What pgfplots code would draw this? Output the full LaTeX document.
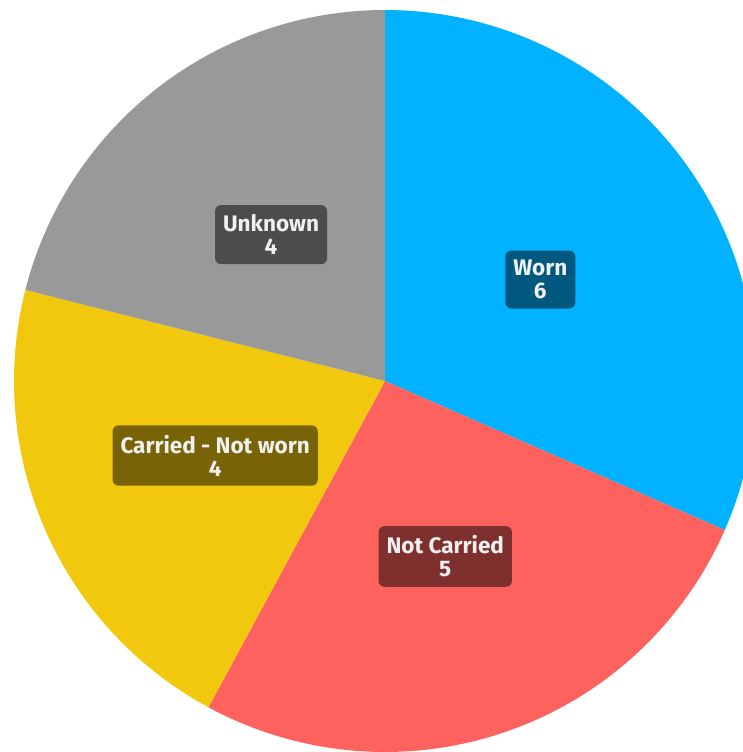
\documentclass[border=0pt]{standalone}
\usepackage{pgfplots}
\pgfplotsset{compat=1.18}
\usepackage{fontspec}
\setmainfont{Fira Sans}
\definecolor{cWorn}{HTML}{00B2FF}
\definecolor{cNotCarried}{HTML}{FD625E}
\definecolor{cCarried}{HTML}{F2C80F}
\definecolor{cUnknown}{HTML}{999999}
\tikzset{lab/.style={font=\fontsize{22.5}{23}\selectfont\bfseries, text=white!94!black, fill=black, fill opacity=0.5, text opacity=1, rounded corners=6pt, align=center, inner xsep=8pt, inner ysep=9.5pt}}
\begin{document}
\begin{tikzpicture}
% values
\def\vWorn{6}\def\vNotCarried{5}\def\vCarried{4}\def\vUnknown{4}
\pgfmathsetmacro\tot{\vWorn+\vNotCarried+\vCarried+\vUnknown}
\pgfmathsetmacro\aA{90}
\pgfmathsetmacro\aB{\aA-360*\vWorn/\tot}
\pgfmathsetmacro\aC{\aB-360*\vNotCarried/\tot}
\pgfmathsetmacro\aD{\aC-360*\vCarried/\tot}
\pgfmathsetmacro\aE{\aD-360*\vUnknown/\tot}
\pgfmathsetmacro\mA{(\aA+\aB)/2}
\pgfmathsetmacro\mB{(\aB+\aC)/2}
\pgfmathsetmacro\mC{(\aC+\aD)/2}
\pgfmathsetmacro\mD{(\aD+\aE)/2}
\def\R{371}
\begin{axis}[
  scale only axis, width=743pt, height=752pt,
  xmin=-385, xmax=358, ymin=-371, ymax=381,
  hide axis, clip=true,
]
\addplot[fill=cWorn, draw=none, domain=\aB:\aA, samples=120, variable=\t] ({\R*cos(t)},{\R*sin(t)}) -- (0,0) -- cycle;
\addplot[fill=cNotCarried, draw=none, domain=\aC:\aB, samples=120, variable=\t] ({\R*cos(t)},{\R*sin(t)}) -- (0,0) -- cycle;
\addplot[fill=cCarried, draw=none, domain=\aD:\aC, samples=120, variable=\t] ({\R*cos(t)},{\R*sin(t)}) -- (0,0) -- cycle;
\addplot[fill=cUnknown, draw=none, domain=\aE:\aD, samples=120, variable=\t] ({\R*cos(t)},{\R*sin(t)}) -- (0,0) -- cycle;
\node[lab] at (axis cs:{0.5*\R*cos(\mA)},{0.5*\R*sin(\mA)}) {Worn\\\vWorn};
\node[lab] at (axis cs:{0.5*\R*cos(\mB)},{0.5*\R*sin(\mB)}) {Not Carried\\\vNotCarried};
\node[lab] at (axis cs:{0.5*\R*cos(\mC)},{0.5*\R*sin(\mC)}) {Carried - Not worn\\\vCarried};
\node[lab] at (axis cs:{0.5*\R*cos(\mD)},{0.5*\R*sin(\mD)}) {Unknown\\\vUnknown};
\end{axis}
\pgfresetboundingbox
\useasboundingbox (current axis.south west) rectangle (current axis.north east);
\end{tikzpicture}
\end{document}
